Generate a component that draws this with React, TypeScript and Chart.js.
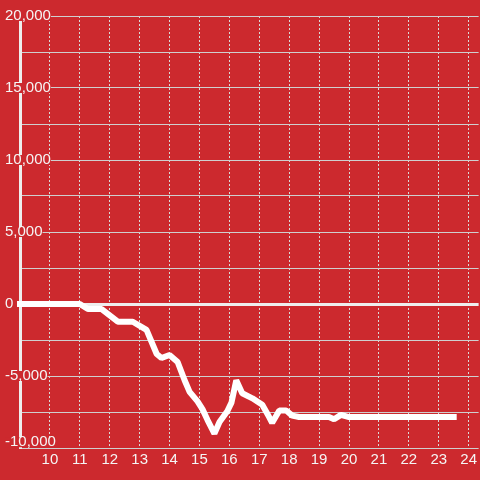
import { useEffect, useRef } from 'react';
import { Chart, registerables } from 'chart.js';

Chart.register(...registerables);

const BG = '#cc292e';
const FONT_FAMILY = "'Liberation Sans', Arial, sans-serif";
const LABEL_COLOR = '#f5f5f5';

const X_TICKS = [10, 11, 12, 13, 14, 15, 16, 17, 18, 19, 20, 21, 22, 23, 24];
const Y_TICKS = [-10000, -7500, -5000, -2500, 0, 2500, 5000, 7500, 10000, 12500, 15000, 17500, 20000];
const Y_LABELS = [-10000, -5000, 0, 5000, 10000, 15000, 20000];
// the lowest label sits a little above its own grid line in the reference
const BOTTOM_LABEL_AT = -9600;

const HOURS = [
  9.0, 11.0, 11.27, 11.73, 12.27, 12.77, 13.23, 13.57, 13.73, 14.0,
  14.27, 14.5, 14.67, 14.93, 15.1, 15.27, 15.5, 15.67, 15.93, 16.07,
  16.23, 16.43, 16.77, 17.1, 17.33, 17.43, 17.67, 17.9, 18.1, 18.33,
  19.33, 19.5, 19.73, 20.0, 23.5,
];
const PNL = [
  0, 0, -350, -350, -1230, -1230, -1800, -3470, -3750, -3540,
  -4030, -5280, -6100, -6750, -7300, -8060, -9000, -8200, -7450, -6850,
  -5300, -6200, -6550, -7000, -7850, -8250, -7400, -7400, -7750, -7850,
  -7850, -8000, -7700, -7850, -7850,
];

const fmt = (v: number) => v.toLocaleString('en-US');

export default function App() {
  const ref = useRef<HTMLCanvasElement>(null);

  useEffect(() => {
    document.body.style.margin = '0';
    const bgPlugin = {
      id: 'bgFill',
      beforeDraw(chart: any) {
        const { ctx, width, height } = chart;
        ctx.save();
        ctx.fillStyle = BG;
        ctx.fillRect(0, 0, width, height);
        ctx.restore();
      },
    };
    const tickVal = (ctx: any) => (ctx && ctx.tick ? ctx.tick.value : NaN);
    const chart = new Chart(ref.current as HTMLCanvasElement, {
      type: 'line',
      data: {
        datasets: [
          {
            data: HOURS.map((x, i) => ({ x, y: PNL[i] })),
            borderColor: '#ffffff',
            borderWidth: 6,
            pointRadius: 0,
            borderCapStyle: 'square',
            borderJoinStyle: 'bevel',
            tension: 0,
            clip: false,
          } as any,
        ],
      },
      options: {
        animation: false,
        responsive: false,
        maintainAspectRatio: false,
        layout: { padding: { left: 5, top: 16, right: 0, bottom: 8 } },
        plugins: { legend: { display: false }, tooltip: { enabled: false } },
        scales: {
          x: {
            type: 'linear',
            min: 9,
            max: 9 + 460 / 30,
            afterBuildTicks: (s: any) => {
              s.ticks = X_TICKS.map((v) => ({ value: v }));
            },
            ticks: {
              autoSkip: false,
              maxRotation: 0,
              padding: 3,
              color: LABEL_COLOR,
              font: { size: 15, family: FONT_FAMILY },
              callback: (v: any) => String(v),
            },
            grid: { color: '#d9d9d9', lineWidth: 1, drawTicks: false },
            border: { display: false, dash: [2, 2] },
          },
          y: {
            type: 'linear',
            min: -10000,
            max: 20000,
            afterBuildTicks: (s: any) => {
              s.ticks = [...Y_TICKS, BOTTOM_LABEL_AT]
                .sort((a, b) => a - b)
                .map((v) => ({ value: v }));
            },
            afterFit: (s: any) => {
              s.width = 15;
            },
            ticks: {
              mirror: true,
              padding: -15,
              color: LABEL_COLOR,
              showLabelBackdrop: true,
              backdropColor: BG,
              backdropPadding: (ctx: any) =>
                tickVal(ctx) === BOTTOM_LABEL_AT
                  ? { top: 2.2, bottom: 2, left: 3, right: 2 }
                  : { top: 0, bottom: 3.4, left: 3, right: 2 },
              font: { size: 15, family: FONT_FAMILY, lineHeight: '10px' },
              callback: (v: any) => {
                const n = Number(v);
                if (n === BOTTOM_LABEL_AT) return fmt(Y_LABELS[0]);
                if (n === Y_LABELS[0]) return '';
                return Y_LABELS.includes(n) ? fmt(n) : '';
              },
            } as any,
            grid: {
              drawTicks: false,
              color: (ctx: any) => {
                const v = tickVal(ctx);
                if (v === BOTTOM_LABEL_AT) return 'rgba(0,0,0,0)';
                return v === 0 ? '#eeeeee' : '#cfcfcf';
              },
              lineWidth: (ctx: any) => {
                const v = tickVal(ctx);
                if (v === BOTTOM_LABEL_AT) return 0;
                return v === 0 ? 3 : 1;
              },
            },
            border: { display: true, color: '#eeeeee', width: 3, dash: [] },
          },
        },
      } as any,
      plugins: [bgPlugin],
    });
    return () => chart.destroy();
  }, []);

  return <canvas ref={ref} width={480} height={480} style={{ display: 'block' }} />;
}
